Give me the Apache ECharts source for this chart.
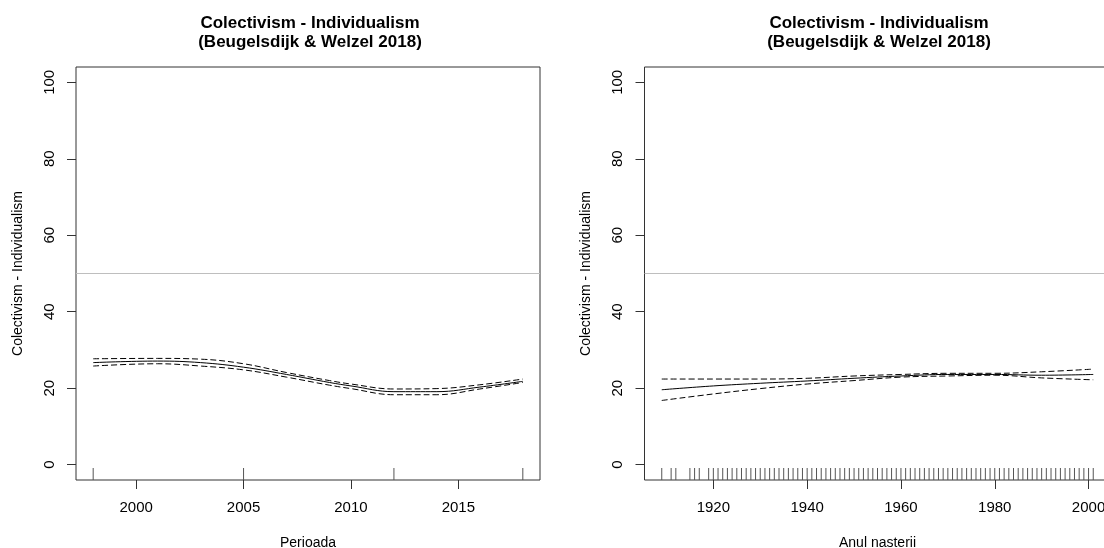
<!DOCTYPE html>
<html>
<head>
<meta charset="utf-8">
<script src="https://cdn.jsdelivr.net/npm/echarts@6/dist/echarts.min.js"></script>
<style>
  html, body { margin: 0; padding: 0; background: #fff; }
  #chart { width: 1104px; height: 548px; }
</style>
</head>
<body>
<div id="chart"></div>
<script>
// left panel: smooth of survey period
var periodX     = [1998, 2001, 2003, 2005, 2007, 2009, 2010, 2012, 2014, 2016, 2018];
var periodFit   = [26.7, 27.1, 26.7, 25.5, 23.6, 21.5, 20.6, 19.1, 19.1, 20.3, 21.8];
var periodUpper = [27.7, 27.8, 27.6, 26.4, 24.1, 22.0, 21.1, 19.8, 19.9, 20.9, 22.4];
var periodLower = [25.8, 26.4, 25.8, 24.8, 22.9, 20.8, 19.9, 18.3, 18.3, 19.8, 21.5];
var periodRug   = [1998, 2005, 2012, 2018];
var periodTicks = [2000, 2005, 2010, 2015];

// right panel: smooth of birth year
var birthX     = [1909, 1920, 1930, 1940, 1950, 1960, 1970, 1980, 1990, 2001];
var birthFit   = [19.6, 20.6, 21.3, 21.9, 22.6, 23.2, 23.6, 23.6, 23.4, 23.6];
var birthUpper = [22.4, 22.4, 22.4, 22.6, 23.2, 23.6, 23.9, 23.9, 24.3, 25.0];
var birthLower = [16.8, 18.5, 19.9, 21.1, 22.0, 22.9, 23.2, 23.4, 22.7, 22.2];
var birthRug   = [1909, 1911, 1912, 1915, 1916, 1917, 1919, 1920, 1921, 1922, 1923, 1924,
                  1925, 1926, 1927, 1928, 1929, 1930, 1931, 1932, 1933, 1934, 1935, 1936,
                  1937, 1938, 1939, 1940, 1941, 1942, 1943, 1944, 1945, 1946, 1947, 1948,
                  1949, 1950, 1951, 1952, 1953, 1954, 1955, 1956, 1957, 1958, 1959, 1960,
                  1961, 1962, 1963, 1964, 1965, 1966, 1967, 1968, 1969, 1970, 1971, 1972,
                  1973, 1974, 1975, 1976, 1977, 1978, 1979, 1980, 1981, 1982, 1983, 1984,
                  1985, 1986, 1987, 1988, 1989, 1990, 1991, 1992, 1993, 1994, 1995, 1996,
                  1997, 1998, 1999, 2000, 2001];
var birthTicks = [1920, 1940, 1960, 1980, 2000];

var yTicks = [0, 20, 40, 60, 80, 100];
var titleText = 'Colectivism - Individualism\n(Beugelsdijk & Welzel 2018)';
var yName = 'Colectivism - Individualism';

var font = 'Liberation Sans, Arial, sans-serif';

function pairs(xs, ys) {
    return xs.map(function (x, i) { return [x, ys[i]]; });
}

function plain(v) { return String(v); }

function xAxisFor(idx, min, max, ticks, name) {
    return {
        type: 'value', gridIndex: idx, min: min, max: max,
        name: name, nameLocation: 'middle', nameGap: 56,
        nameTextStyle: {color: '#000', fontFamily: font, fontSize: 14},
        axisLine: {show: false, onZero: false},
        axisTick: {show: true, length: 9, customValues: ticks, lineStyle: {color: '#333'}},
        axisLabel: {customValues: ticks, formatter: plain, margin: 20, color: '#000', fontFamily: font, fontSize: 15},
        splitLine: {show: false}
    };
}

function yAxisFor(idx) {
    return {
        type: 'value', gridIndex: idx, min: -4, max: 104,
        name: yName, nameLocation: 'middle', nameGap: 51,
        nameTextStyle: {color: '#000', fontFamily: font, fontSize: 14},
        axisLine: {show: false, onZero: false},
        axisTick: {show: true, length: 9, customValues: yTicks, lineStyle: {color: '#333'}},
        axisLabel: {customValues: yTicks, formatter: plain, rotate: 90, margin: 19, color: '#000', fontFamily: font, fontSize: 15},
        splitLine: {show: false}
    };
}

function lineSeries(idx, xs, ys, dashed, withRef) {
    var s = {
        type: 'line', xAxisIndex: idx, yAxisIndex: idx,
        data: pairs(xs, ys), smooth: 0.4, symbol: 'none',
        lineStyle: {color: '#000', width: 1, type: dashed ? [6, 3] : 'solid'},
        z: 3
    };
    if (withRef) {
        s.markLine = {
            silent: true, symbol: ['none', 'none'], label: {show: false},
            lineStyle: {color: '#bebebe', type: 'solid', width: 1},
            data: [{yAxis: 50}]
        };
    }
    return s;
}

function rugSeries(idx, xs) {
    return {
        type: 'custom', xAxisIndex: idx, yAxisIndex: idx,
        data: xs.map(function (x) { return [x, -4]; }),
        renderItem: function (params, api) {
            var p = api.coord([api.value(0), -4]);
            return {
                type: 'line',
                shape: {x1: p[0], y1: p[1], x2: p[0], y2: p[1] - 12},
                style: {stroke: '#555', lineWidth: 1}
            };
        },
        z: 2
    };
}

var titleStyle = {fontFamily: font, fontSize: 17, fontWeight: 'bold', color: '#000', lineHeight: 19};

var chartDom = document.getElementById('chart');
var myChart = echarts.init(chartDom);
var option = {
    animation: false,
    backgroundColor: '#fff',
    title: [
        {text: titleText, left: 305, top: 9, textAlign: 'center', textStyle: titleStyle},
        {text: titleText, left: 874, top: 9, textAlign: 'center', textStyle: titleStyle}
    ],
    grid: [
        {left: 76, top: 67, width: 464, height: 413, outerBoundsMode: 'none', containLabel: false,
         show: true, borderColor: '#333', borderWidth: 1, backgroundColor: 'transparent'},
        {left: 644.5, top: 67, width: 466, height: 413, outerBoundsMode: 'none', containLabel: false,
         show: true, borderColor: '#333', borderWidth: 1, backgroundColor: 'transparent'}
    ],
    xAxis: [
        xAxisFor(0, 1997.2, 2018.8, periodTicks, 'Perioada'),
        xAxisFor(1, 1905.32, 2004.68, birthTicks, 'Anul nasterii')
    ],
    yAxis: [yAxisFor(0), yAxisFor(1)],
    series: [
        lineSeries(0, periodX, periodFit, false, true),
        lineSeries(0, periodX, periodUpper, true, false),
        lineSeries(0, periodX, periodLower, true, false),
        rugSeries(0, periodRug),
        lineSeries(1, birthX, birthFit, false, true),
        lineSeries(1, birthX, birthUpper, true, false),
        lineSeries(1, birthX, birthLower, true, false),
        rugSeries(1, birthRug)
    ]
};
option && myChart.setOption(option);
</script>
</body>
</html>
